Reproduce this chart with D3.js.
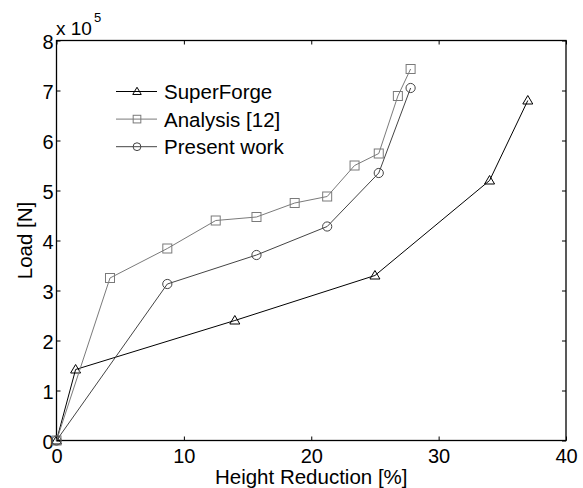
<!DOCTYPE html>
<html>
<head>
<meta charset="utf-8">
<script src="https://cdn.jsdelivr.net/npm/d3@7"></script>
<style>
body { margin: 0; background: #fff; overflow: hidden; }
svg { display: block; }
svg text { font-family: "Liberation Sans", Arial, sans-serif; fill: #000; }
</style>
</head>
<body>
<svg width="583" height="488"></svg>
<script>
// data (load in units of 1e5 N)
var superX = [0, 1.5, 14, 25, 34, 37];
var superY = [0, 1.42, 2.4, 3.3, 5.2, 6.8];
var analysisX = [0, 4.2, 8.7, 12.5, 15.7, 18.7, 21.25, 23.4, 25.3, 26.8, 27.8];
var analysisY = [0, 3.25, 3.84, 4.4, 4.47, 4.75, 4.88, 5.5, 5.74, 6.89, 7.43];
var presentX = [0, 8.7, 15.7, 21.25, 25.3, 27.8];
var presentY = [0, 3.13, 3.71, 4.28, 5.35, 7.05];
var xTicks = [0, 10, 20, 30, 40];
var yTicks = [0, 1, 2, 3, 4, 5, 6, 7, 8];

var svg = d3.select("svg");
var pLeft = 56.5, pRight = 566, pTop = 40.5, pBottom = 440.5;

var xScale = d3.scaleLinear().domain([0, 40]).range([pLeft, pRight]);
var yScale = d3.scaleLinear().domain([0, 8]).range([pBottom, pTop]);

var series = [
  {name: "SuperForge", xs: superX, ys: superY, color: "#000", marker: "triangle"},
  {name: "Analysis [12]", xs: analysisX, ys: analysisY, color: "#7a7a7a", marker: "square"},
  {name: "Present work", xs: presentX, ys: presentY, color: "#444", marker: "circle"}
];

// axes with inward ticks, mirrored
svg.append("g")
  .attr("transform", "translate(0," + pBottom + ")")
  .call(d3.axisBottom(xScale).tickValues(xTicks).tickSizeInner(-4).tickSizeOuter(0).tickPadding(4))
  .call(g => g.select(".domain").remove())
  .selectAll("text").attr("font-size", 20).attr("dy", "0.9em").attr("fill", "#000");

svg.append("g")
  .attr("transform", "translate(0," + pTop + ")")
  .call(d3.axisTop(xScale).tickValues(xTicks).tickSizeInner(-4).tickSizeOuter(0).tickFormat(""))
  .call(g => g.select(".domain").remove());

svg.append("g")
  .attr("transform", "translate(" + pLeft + ",0)")
  .call(d3.axisLeft(yScale).tickValues(yTicks).tickSizeInner(-4).tickSizeOuter(0).tickPadding(3))
  .call(g => g.select(".domain").remove())
  .selectAll("text").attr("font-size", 20).attr("dy", "0.42em").attr("fill", "#000");

svg.append("g")
  .attr("transform", "translate(" + pRight + ",0)")
  .call(d3.axisRight(yScale).tickValues(yTicks).tickSizeInner(-4).tickSizeOuter(0).tickFormat(""))
  .call(g => g.select(".domain").remove());

svg.append("rect")
  .attr("x", pLeft).attr("y", pTop)
  .attr("width", pRight - pLeft).attr("height", pBottom - pTop)
  .attr("fill", "none").attr("stroke", "#000").attr("stroke-width", 1.3);

// multiplier
var mult = svg.append("text").attr("x", 56).attr("y", 35).attr("font-size", 19);
mult.append("tspan").text("x 10");
mult.append("tspan").attr("font-size", 13).attr("dy", -13).attr("dx", 2).text("5");

// axis titles
svg.append("text")
  .attr("x", (pLeft + pRight) / 2).attr("y", 484)
  .attr("text-anchor", "middle").attr("font-size", 20.5)
  .text("Height Reduction [%]");

svg.append("text")
  .attr("transform", "translate(32," + ((pTop + pBottom) / 2) + ") rotate(-90)")
  .attr("text-anchor", "middle").attr("font-size", 20.5)
  .text("Load [N]");

function drawMarker(g, type, x, y, color, k) {
  if (type === "triangle") {
    g.append("path")
      .attr("d", "M" + x + "," + (y - 5 * k) + "L" + (x + 5 * k) + "," + (y + 3.5 * k) + "L" + (x - 5 * k) + "," + (y + 3.5 * k) + "Z")
      .attr("fill", "none").attr("stroke", color).attr("stroke-width", 1);
  } else if (type === "square") {
    g.append("rect")
      .attr("x", x - 4.5 * k).attr("y", y - 4.5 * k).attr("width", 9 * k).attr("height", 9 * k)
      .attr("fill", "none").attr("stroke", color).attr("stroke-width", 1);
  } else {
    g.append("circle")
      .attr("cx", x).attr("cy", y).attr("r", 4.6 * k)
      .attr("fill", "none").attr("stroke", color).attr("stroke-width", 1);
  }
}

var line = d3.line().x(d => xScale(d[0])).y(d => yScale(d[1]));

series.forEach(function(s) {
  var pts = s.xs.map((x, i) => [x, s.ys[i]]);
  var g = svg.append("g");
  g.append("path")
    .attr("d", line(pts))
    .attr("fill", "none").attr("stroke", s.color).attr("stroke-width", 1);
  pts.forEach(p => drawMarker(g, s.marker, xScale(p[0]), yScale(p[1]), s.color, 1));
});

// legend
var legend = svg.append("g");
series.forEach(function(s, i) {
  var y = 91.5 + i * 27.6;
  legend.append("line")
    .attr("x1", 116).attr("x2", 157).attr("y1", y).attr("y2", y)
    .attr("stroke", s.color).attr("stroke-width", 1);
  drawMarker(legend, s.marker, 137, y, s.color, 0.85);
  legend.append("text")
    .attr("x", 164).attr("y", y + 7.5).attr("font-size", 20.5)
    .text(s.name);
});
</script>
</body>
</html>
